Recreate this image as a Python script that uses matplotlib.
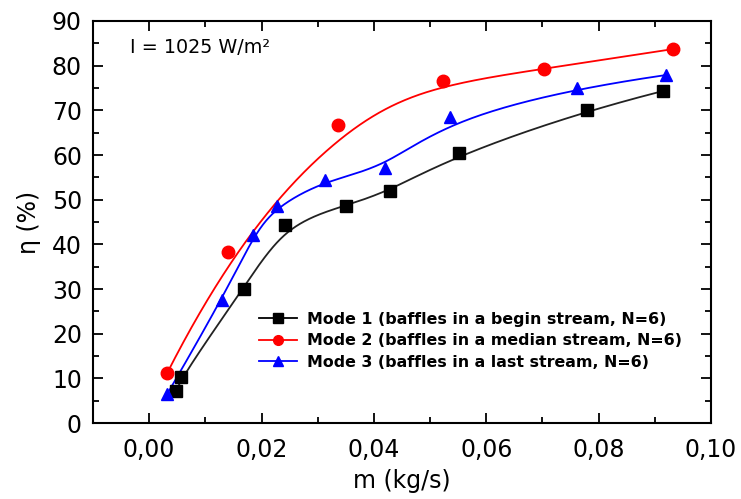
import numpy as np
import matplotlib
matplotlib.use("Agg")
import matplotlib.pyplot as plt
from matplotlib.ticker import MultipleLocator, FuncFormatter

plt.rcParams['font.family'] = ['DejaVu Sans']

# valores
m1 = [0.0048, 0.0057, 0.0168, 0.0241, 0.0350, 0.0429, 0.0552, 0.0779, 0.0914]
eta1 = [7.2, 10.3, 30.1, 44.4, 48.7, 52.0, 60.4, 70.0, 74.3]

m2 = [0.0032, 0.0141, 0.0336, 0.0523, 0.0702, 0.0932]
eta2 = [11.2, 38.2, 66.7, 76.5, 79.2, 83.7]

m3 = [0.0032, 0.0130, 0.0184, 0.0227, 0.0313, 0.0420, 0.0536, 0.0761, 0.0920]
eta3 = [6.5, 27.6, 42.0, 48.5, 54.3, 57.2, 68.4, 75.0, 77.9]

labels = ["Mode 1 (baffles in a begin stream, N=6)",
          "Mode 2 (baffles in a median stream, N=6)",
          "Mode 3 (baffles in a last stream, N=6)"]


def bspline(x, y, num=400, k=3):
    # B-spline cubica com os pontos como pontos de controle (como no Origin)
    P = np.column_stack([x, y]).astype(float)
    n = len(P)
    inner = np.arange(1, n - k)
    knots = np.concatenate([np.zeros(k + 1), inner, np.full(k + 1, n - k)]).astype(float)
    ts = np.linspace(0, n - k, num)
    ts[-1] -= 1e-9
    # Cox-de Boor
    B = np.zeros((num, len(knots) - 1))
    for i in range(len(knots) - 1):
        B[:, i] = (ts >= knots[i]) & (ts < knots[i + 1])
    for d in range(1, k + 1):
        Bn = np.zeros((num, len(knots) - 1 - d))
        for i in range(len(knots) - 1 - d):
            a = knots[i + d] - knots[i]
            b = knots[i + d + 1] - knots[i + 1]
            t1 = (ts - knots[i]) / a * B[:, i] if a > 0 else 0
            t2 = (knots[i + d + 1] - ts) / b * B[:, i + 1] if b > 0 else 0
            Bn[:, i] = t1 + t2
        B = Bn
    C = B @ P
    return C[:, 0], C[:, 1]


fig = plt.figure(figsize=(7.41, 4.99), dpi=100)
ax = fig.add_axes([0.1255, 0.152, 0.834, 0.806])

for mx, ey, c in [(m1, eta1, '#222222'), (m3, eta3, 'blue'), (m2, eta2, 'red')]:
    cx, cy = bspline(mx, ey)
    ax.plot(cx, cy, color=c, lw=1.3)

ax.plot(m1, eta1, 's', color='black', ms=8)
ax.plot(m2, eta2, 'o', color='red', ms=9)
ax.plot(m3, eta3, '^', color='blue', ms=9)

# legenda feita a parte (linha + marcador)
h1, = ax.plot([], [], '-s', color='black', ms=7, lw=1.3)
h2, = ax.plot([], [], '-o', color='red', ms=7, lw=1.3)
h3, = ax.plot([], [], '-^', color='blue', ms=7, lw=1.3)
ax.legend([h1, h2, h3], labels, loc='upper left', bbox_to_anchor=(0.251, 0.305),
          frameon=False, prop={'weight': 'bold', 'size': 11.4},
          handlelength=2.4, handletextpad=0.65, labelspacing=0.42, borderpad=0.2)

ax.text(0.06, 0.935, "I = 1025 W/m²", transform=ax.transAxes, fontsize=13.8,
        va='center', ha='left')

ax.set_xlim(-0.01, 0.10)
ax.set_ylim(0, 90)
ax.xaxis.set_major_locator(MultipleLocator(0.02))
ax.xaxis.set_minor_locator(MultipleLocator(0.01))
ax.yaxis.set_major_locator(MultipleLocator(10))
ax.yaxis.set_minor_locator(MultipleLocator(5))
ax.xaxis.set_major_formatter(FuncFormatter(lambda v, p: f"{v:.2f}".replace('.', ',')))
ax.tick_params(which='both', direction='in', top=True, right=True, width=1.3)
ax.tick_params(which='major', length=7, labelsize=17)
ax.tick_params(axis='x', which='major', pad=10.5)
ax.tick_params(axis='y', which='major', pad=8)
ax.tick_params(which='minor', length=4)
for s in ax.spines.values():
    s.set_linewidth(1.5)

ax.set_xlabel("m (kg/s)", fontsize=17, labelpad=5)
ax.set_ylabel("η (%)", fontsize=17, labelpad=8)

fig.savefig("out.png", dpi=100)
